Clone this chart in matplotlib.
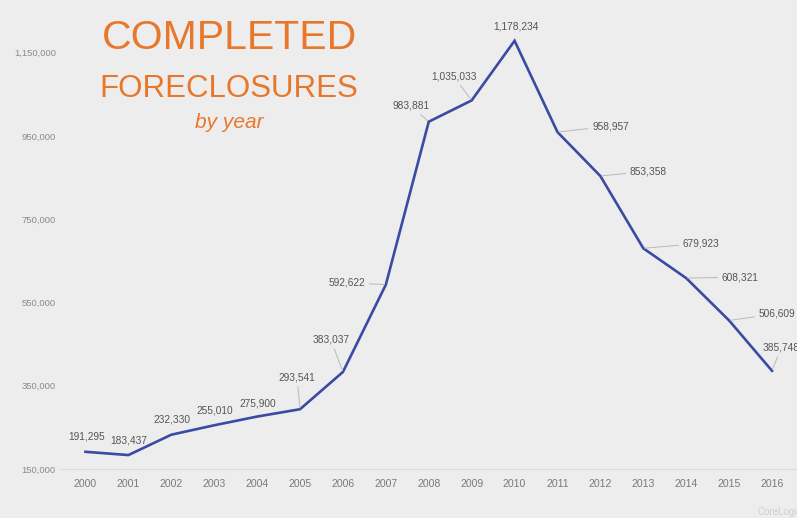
import matplotlib
matplotlib.use("Agg")
import matplotlib.pyplot as plt

# data
years = list(range(2000, 2017))
foreclosures = [191295, 183437, 232330, 255010, 275900, 293541, 383037, 592622,
                983881, 1035033, 1178234, 958957, 853358, 679923, 608321, 506609, 385748]
ytick_vals = [150000, 350000, 550000, 750000, 950000, 1150000]

# label offsets from each point (pixels, y up) and whether a leader line is drawn
label_dx = [1, 0, 1, 1, 1, -3, -12, -39, -18, -18, 1, 53, 48, 58, 54, 48, 9]
label_dy = [15, 15, 15, 15, 13, 32, 32, 2, 16, 24, 14, 6, 5, 5, 1, 7, 23]
leader = [False] * 5 + [True] * 5 + [False] + [True] * 6

W, H = 797, 518
BG = "#ededed"
ORANGE = "#e8772a"
LINE = "#3b4aa3"

plt.rcParams["font.family"] = ["Liberation Sans", "DejaVu Sans"]

fig = plt.figure(figsize=(W / 100, H / 100), dpi=100, facecolor=BG)
ax = fig.add_axes([60 / W, 49 / H, (W - 60) / W, 437.3 / H], facecolor=BG)

ax.plot(years, foreclosures, color=LINE, lw=1.9, solid_joinstyle="miter", zorder=3)

for x, y, dx, dy, ld in zip(years, foreclosures, label_dx, label_dy, leader):
    arrow = dict(arrowstyle="-", color="#b9b9b9", lw=0.7, shrinkA=1, shrinkB=1) if ld else None
    ax.annotate(f"{y:,}", xy=(x, y), xytext=(dx, dy), textcoords="offset pixels",
                ha="center", va="center", fontsize=7.3, color="#555555",
                arrowprops=arrow, annotation_clip=False)

ax.set_xlim(1999.406, 2016.582)
ax.set_ylim(150000, 1200000)
ax.set_xticks(years)
ax.set_xticklabels([str(y) for y in years])
ax.set_yticks(ytick_vals)
ax.set_yticklabels([f"{v:,}" for v in ytick_vals])
ax.tick_params(axis="x", length=0, pad=7, labelsize=7.6, labelcolor="#7a7a7a")
ax.tick_params(axis="y", length=0, pad=3, labelsize=6.8, labelcolor="#8a8a8a")
for side in ("top", "right", "left"):
    ax.spines[side].set_visible(False)
ax.spines["bottom"].set_color("#dcdcdc")
ax.spines["bottom"].set_linewidth(0.8)

# title block
fig.text(229.5 / W, 1 - 49 / H, "COMPLETED", ha="center", va="baseline",
         fontsize=29.5, color=ORANGE)
fig.text(229 / W, 1 - 97 / H, "FORECLOSURES", ha="center", va="baseline",
         fontsize=22.5, color=ORANGE)
fig.text(229 / W, 1 - 128 / H, "by year", ha="center", va="baseline",
         fontsize=15, style="italic", color=ORANGE)

fig.text(757 / W, 1 - 512 / H, "CoreLogic", ha="left", va="center",
         fontsize=7, color="#cfcfcf")

fig.savefig("out.png", dpi=100, facecolor=BG)
